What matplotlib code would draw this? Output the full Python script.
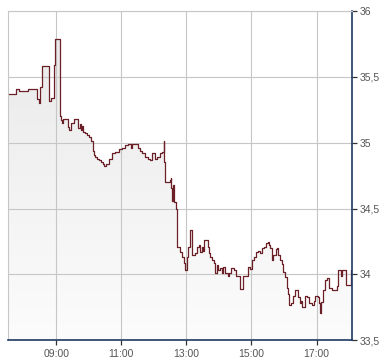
import matplotlib
matplotlib.use('Agg')
import matplotlib.pyplot as plt
import numpy as np
from matplotlib.colors import LinearSegmentedColormap

times = ["07:31", "07:45", "07:52", "08:07", "08:24", "08:28", "08:30", "08:34", "08:47", "08:51",
         "08:56", "08:58", "09:06", "09:09", "09:11", "09:12", "09:22", "09:24", "09:27", "09:33",
         "09:40", "09:44", "09:45", "09:47", "09:50", "09:53", "09:57", "10:00", "10:04", "10:07",
         "10:10", "10:11", "10:15", "10:19", "10:22", "10:26", "10:28", "10:32", "10:37", "10:43",
         "10:48", "10:56", "11:01", "11:07", "11:12", "11:18", "11:20", "11:31", "11:35", "11:38",
         "11:44", "11:49", "11:53", "11:57", "12:02", "12:06", "12:11", "12:15", "12:18", "12:19",
         "12:21", "12:30", "12:31", "12:32", "12:34", "12:36", "12:37", "12:40", "12:42", "12:48",
         "12:52", "12:56", "12:58", "13:01", "13:03", "13:06", "13:11", "13:16", "13:20", "13:23",
         "13:25", "13:29", "13:31", "13:33", "13:39", "13:41", "13:44", "13:47", "13:51", "13:53",
         "13:57", "13:58", "14:02", "14:06", "14:08", "14:11", "14:16", "14:19", "14:22", "14:28",
         "14:32", "14:39", "14:45", "14:54", "14:57", "15:01", "15:05", "15:09", "15:12", "15:16",
         "15:20", "15:23", "15:27", "15:31", "15:33", "15:35", "15:38", "15:40", "15:45", "15:47",
         "15:49", "15:53", "15:57", "15:59", "16:02", "16:05", "16:08", "16:10", "16:13", "16:17",
         "16:21", "16:26", "16:29", "16:32", "16:34", "16:39", "16:43", "16:47", "16:52", "16:56",
         "16:58", "17:02", "17:05", "17:07", "17:08", "17:12", "17:16", "17:20", "17:23", "17:29",
         "17:37", "17:40", "17:45", "17:47", "17:55", "18:03", "18:04"]
prices = [35.37, 35.41, 35.39, 35.41, 35.33, 35.30, 35.42, 35.58, 35.32, 35.34,
          35.59, 35.79, 35.20, 35.17, 35.15, 35.18, 35.12, 35.10, 35.15, 35.18,
          35.11, 35.14, 35.10, 35.13, 35.08, 35.07, 35.06, 35.04, 35.01, 34.94,
          34.91, 34.89, 34.88, 34.87, 34.85, 34.84, 34.82, 34.84, 34.88, 34.92,
          34.93, 34.95, 34.96, 34.98, 34.99, 34.96, 34.99, 34.96, 34.94, 34.92,
          34.89, 34.88, 34.87, 34.92, 34.88, 34.89, 34.92, 34.93, 35.01, 34.85,
          34.70, 34.72, 34.73, 34.66, 34.56, 34.68, 34.55, 34.50, 34.21, 34.17,
          34.13, 34.09, 34.03, 34.13, 34.21, 34.34, 34.15, 34.16, 34.21, 34.22,
          34.17, 34.21, 34.18, 34.26, 34.21, 34.16, 34.13, 34.11, 34.09, 34.01,
          34.07, 34.03, 34.05, 34.01, 34.06, 34.01, 33.99, 34.01, 34.05, 34.03,
          33.99, 33.89, 33.99, 34.06, 34.04, 34.11, 34.13, 34.17, 34.18, 34.16,
          34.20, 34.21, 34.24, 34.25, 34.22, 34.20, 34.11, 34.15, 34.19, 34.20,
          34.15, 34.11, 34.08, 34.02, 33.98, 33.90, 33.85, 33.77, 33.78, 33.84,
          33.88, 33.83, 33.78, 33.80, 33.75, 33.84, 33.83, 33.78, 33.77, 33.80,
          33.84, 33.83, 33.78, 33.71, 33.79, 33.88, 33.96, 33.97, 33.90, 33.88,
          33.91, 34.03, 33.99, 34.03, 33.92, 34.03, 34.03]

x_ticks = ["09:00", "11:00", "13:00", "15:00", "17:00"]
y_ticks = [33.5, 34.0, 34.5, 35.0, 35.5, 36.0]
y_tick_labels = ["33,5", "34", "34,5", "35", "35,5", "36"]
x_range = ["07:31", "18:06"]


def to_h(t):
    h, m = t.split(":")
    return int(h) + int(m) / 60.0


x = np.array([to_h(t) for t in times])
y = np.array(prices)
x0, x1 = to_h(x_range[0]), to_h(x_range[1])
y0, y1 = y_ticks[0], y_ticks[-1]

W, H = 390, 364
fig = plt.figure(figsize=(W / 100, H / 100), dpi=100)
fig.patch.set_facecolor('white')
ax = fig.add_axes([8 / W, 1 - 340.3 / H, (352.3 - 8) / W, (340.3 - 11) / H])
ax.set_facecolor('white')

# gradient fill under the line
poly = ax.fill_between(x, y, y0, step='post', facecolor='none', edgecolor='none')
cmap = LinearSegmentedColormap.from_list('g', ['#e8e8e8', '#fcfcfc'])
grad = np.linspace(0, 1, 256).reshape(-1, 1)
im = ax.imshow(grad, cmap=cmap, aspect='auto', extent=(x0, x1, y0, y1),
               origin='upper', zorder=1, interpolation='bilinear')
im.set_clip_path(poly.get_paths()[0], transform=ax.transData)

ax.plot(x, y, drawstyle='steps-post', color='#6b1f26', lw=0.9, zorder=3)

ax.set_xlim(x0, x1)
ax.set_ylim(y0, y1)

ax.set_xticks([to_h(t) for t in x_ticks])
ax.set_xticklabels(x_ticks)
ax.set_yticks(y_ticks)
ax.set_yticklabels(y_tick_labels)
ax.yaxis.tick_right()

ax.grid(True, color='#c6c6c6', lw=0.8, zorder=2)
for l in ax.get_xgridlines() + ax.get_ygridlines():
    l.set_zorder(2)

navy = '#1e3a66'
ax.spines['right'].set_color(navy)
ax.spines['bottom'].set_color(navy)
ax.spines['right'].set_linewidth(1.2)
ax.spines['bottom'].set_linewidth(1.2)
ax.spines['left'].set_color('#c6c6c6')
ax.spines['top'].set_color('#c6c6c6')
ax.spines['left'].set_linewidth(0.8)
ax.spines['top'].set_linewidth(0.8)
for s in ax.spines.values():
    s.set_zorder(4)

ax.tick_params(axis='both', direction='out', length=3.5, width=0.9, colors='#333333',
               labelcolor='#555555', labelsize=7.5, pad=1.5)
ax.tick_params(axis='x', pad=2.5)
for lab in ax.get_xticklabels() + ax.get_yticklabels():
    lab.set_fontfamily('Liberation Sans')

fig.savefig('out.png', dpi=100, facecolor='white')
